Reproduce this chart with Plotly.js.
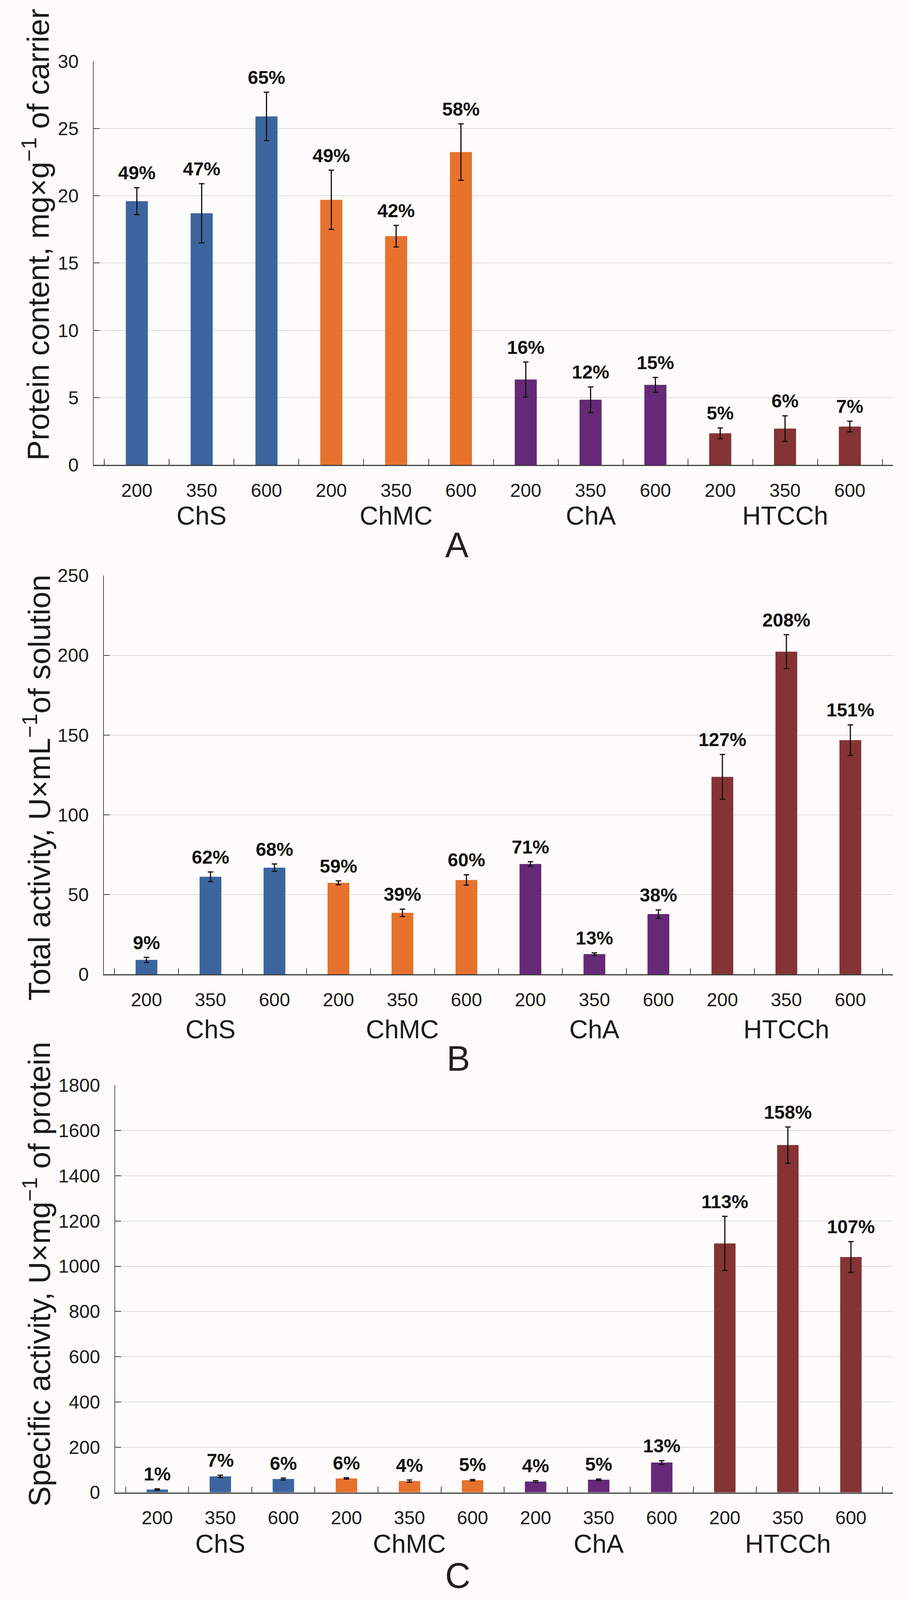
<!DOCTYPE html>
<html>
<head>
<meta charset="utf-8">
<script src="https://cdn.plot.ly/plotly-3.0.1.min.js"></script>
<style>html,body{margin:0;padding:0;background:#fdfcfa;overflow:hidden;}</style>
</head>
<body>
<div id="chart"></div>
<script>
// ---- data ----
const groups = ['ChS', 'ChMC', 'ChA', 'HTCCh'];
const temps = ['200', '350', '600'];
const groupColors = ['#3c65a0', '#e6722d', '#652977', '#853334'];

const proteinContent = [19.6, 18.7, 25.9, 19.7, 17.0, 23.25, 6.35, 4.85, 5.95, 2.35, 2.7, 2.85];
const proteinErr     = [1.0, 2.2, 1.8, 2.2, 0.8, 2.1, 1.3, 0.95, 0.55, 0.4, 0.95, 0.4];
const proteinLabels  = ['49%','47%','65%','49%','42%','58%','16%','12%','15%','5%','6%','7%'];

const totalActivity = [9.1, 61.2, 66.9, 57.4, 38.6, 59.2, 69.2, 12.7, 37.8, 123.8, 202.3, 146.8];
const totalErr      = [1.6, 3.0, 2.3, 1.2, 2.3, 3.2, 1.4, 0.8, 2.6, 14, 10.6, 9.6];
const totalLabels   = ['9%','62%','68%','59%','39%','60%','71%','13%','38%','127%','208%','151%'];

const specificActivity = [12.5, 71, 59, 62, 50, 54, 48, 56, 132, 1101, 1536, 1041];
const specificErr      = [3, 5, 4, 3, 5, 3, 4, 3, 8, 120, 80, 68];
const specificLabels   = ['1%','7%','6%','6%','4%','5%','4%','5%','13%','113%','158%','107%'];

const yTitles = [
  'Protein content, mg×g<sup>−1</sup> of carrier',
  'Total activity, U×mL<sup>−1</sup>of solution',
  'Specific activity, U×mg<sup>−1</sup> of protein'
];
const panelLetters = ['A', 'B', 'C'];
const yRanges = [[0, 30], [0, 250], [0, 1800]];
const yDticks = [5, 50, 200];

// ---- derived ----
const cats = [], tickText = [], barColors = [];
groups.forEach((g, gi) => temps.forEach(t => { cats.push(g + ' ' + t); tickText.push(t); barColors.push(groupColors[gi]); }));

// reference geometry is 2328 x 4312; fit it into the actual viewport
const RW = 2328, RH = 4312;
const W = Math.min(RW, window.innerWidth || RW);
const H = Math.min(RH, window.innerHeight || RH);
const s = Math.min(W / RW, H / RH);
const f = v => Math.round(v * s);
const px = x => x / RW;
const py = y => 1 - y / RH;
document.getElementById('chart').style.width = W + 'px';
document.getElementById('chart').style.height = H + 'px';

// panel geometry in reference pixels
const panels = [
  {left: 240, right: 2287, top: 165, bottom: 1253, groupY: 1390, letter: [1170, 1469], title: [93, 633]},
  {left: 266, right: 2287, top: 1551, bottom: 2626, groupY: 2774, letter: [1174, 2853], title: [96, 2123]},
  {left: 295, right: 2287, top: 2925, bottom: 4022, groupY: 4160, letter: [1172, 4247], title: [96, 3434]}
];
const series = [
  [proteinContent, proteinErr, proteinLabels],
  [totalActivity, totalErr, totalLabels],
  [specificActivity, specificErr, specificLabels]
];

const FONT = '"Liberation Sans", Arial, sans-serif';
const traces = [];
const layout = {
  width: W, height: H,
  margin: {l: 0, r: 0, t: 0, b: 0},
  paper_bgcolor: '#fdfcfa',
  plot_bgcolor: '#fdfcfa',
  showlegend: false,
  bargap: 0.66,
  font: {family: FONT, color: '#1a1a1a'},
  annotations: []
};

panels.forEach((p, i) => {
  const n = i === 0 ? '' : String(i + 1);
  const xa = 'x' + n, ya = 'y' + n;
  const [vals, errs, labs] = series[i];
  traces.push({
    type: 'bar', x: cats, y: vals, xaxis: xa, yaxis: ya,
    marker: {color: barColors, line: {width: 0}},
    error_y: {type: 'data', array: errs, visible: true, color: '#111111', thickness: Math.max(2, f(3)), width: f(7)},
    hoverinfo: 'skip'
  });
  traces.push({
    type: 'scatter', mode: 'markers+text', x: cats, y: vals.map((v, k) => v + errs[k]),
    xaxis: xa, yaxis: ya,
    marker: {size: f(14), opacity: 0},
    text: labs, textposition: 'top center',
    textfont: {family: FONT, size: f(51), weight: 'bold', color: '#111111'},
    hoverinfo: 'skip', cliponaxis: false
  });
  layout['xaxis' + n] = {
    domain: [px(p.left), px(p.right)],
    anchor: ya,
    type: 'category',
    categoryorder: 'array', categoryarray: cats,
    tickmode: 'array', tickvals: cats, ticktext: tickText,
    tickson: 'boundaries',
    ticks: 'inside', ticklen: f(16), tickwidth: 2, tickcolor: '#404040',
    showline: true, linecolor: '#404040', linewidth: 3,
    showgrid: false, zeroline: false,
    tickfont: {family: FONT, size: f(51), color: '#1a1a1a'},
    ticklabelstandoff: f(22),
    fixedrange: true
  };
  layout['yaxis' + n] = {
    domain: [py(p.bottom), py(p.top)],
    anchor: xa,
    range: yRanges[i], dtick: yDticks[i], tick0: 0,
    ticks: 'inside', ticklen: f(16), tickwidth: 2, tickcolor: '#404040',
    showline: true, linecolor: '#555555', linewidth: 2,
    showgrid: true, gridcolor: '#dcdcdc', gridwidth: 2,
    zeroline: false,
    tickfont: {family: FONT, size: f(51), color: '#1a1a1a'},
    ticklabelstandoff: f(28),
    fixedrange: true
  };
  // group labels
  groups.forEach(g => {
    layout.annotations.push({
      xref: xa, yref: 'paper', x: g + ' 350', y: py(p.groupY),
      text: g, showarrow: false, xanchor: 'center', yanchor: 'middle',
      font: {family: FONT, size: f(70), color: '#1a1a1a'}
    });
  });
  // y titles
  layout.annotations.push({
    xref: 'paper', yref: 'paper', x: px(p.title[0]), y: py(p.title[1]),
    text: yTitles[i], textangle: -90, showarrow: false,
    xanchor: 'center', yanchor: 'middle',
    font: {family: FONT, size: f(82), color: '#1a1a1a'}
  });
  // panel letter
  layout.annotations.push({
    xref: 'paper', yref: 'paper', x: px(p.letter[0]), y: py(p.letter[1]),
    text: panelLetters[i], showarrow: false, xanchor: 'center', yanchor: 'middle',
    font: {family: FONT, size: f(95), color: '#231f20'}
  });
});

Plotly.newPlot('chart', traces, layout, {displayModeBar: false, staticPlot: true});
</script>
</body>
</html>
